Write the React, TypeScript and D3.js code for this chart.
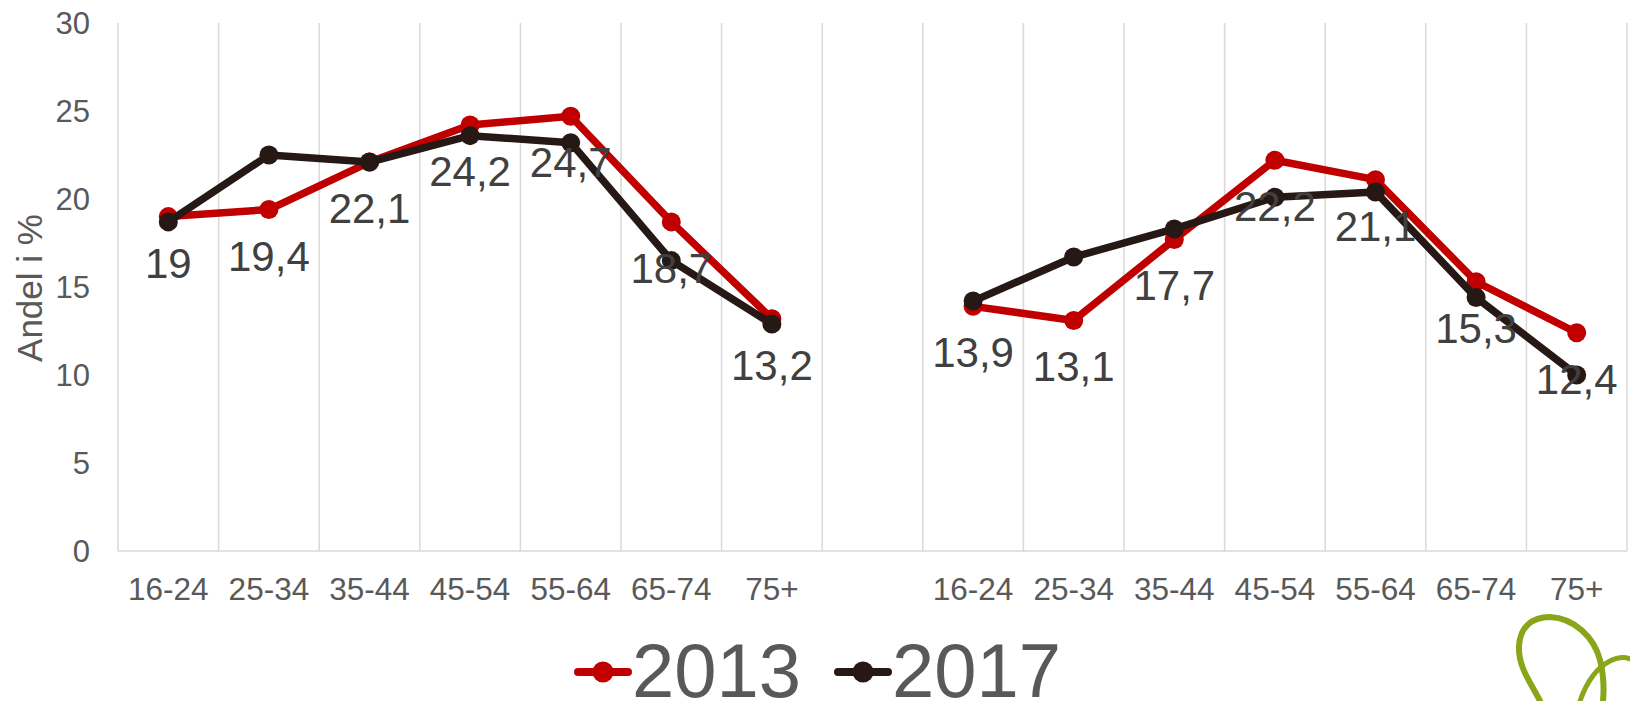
import React from "react";
import * as d3 from "d3";

const ageGroups = ["16-24", "25-34", "35-44", "45-54", "55-64", "65-74", "75+"];
const categories = [...ageGroups, "", ...ageGroups];
const values2013: (number | null)[] = [19, 19.4, 22.1, 24.2, 24.7, 18.7, 13.2, null, 13.9, 13.1, 17.7, 22.2, 21.1, 15.3, 12.4];
const values2017: (number | null)[] = [18.7, 22.5, 22.1, 23.6, 23.2, 16.5, 12.9, null, 14.2, 16.7, 18.3, 20.1, 20.4, 14.4, 10.0];
const yTicks = [0, 5, 10, 15, 20, 25, 30];
const seriesNames = ["2013", "2017"];
const yTitle = "Andel i %";

const W = 1630;
const H = 701;
const FONT = "'Liberation Sans', Arial, Helvetica, sans-serif";
const RED = "#C00000";
const BLACK = "#261814";
const GRID = "#D9D9D9";
const TXT = "#595959";
const LBL = "#404040";

export default function App() {
  React.useEffect(() => {
    document.body.style.margin = "0";
  }, []);

  const keys = categories.map((_, i) => String(i));
  const x = d3.scaleBand<string>().domain(keys).range([118, 1627]).padding(0);
  const y = d3.scaleLinear().domain([0, 30]).range([551, 23]);
  const cx = (i: number) => (x(String(i)) as number) + x.bandwidth() / 2;

  const line = d3
    .line<number | null>()
    .defined((d) => d != null)
    .x((_, i) => cx(i))
    .y((d) => y(d as number));

  const boundaries = d3.range(categories.length + 1).map((i) => 118 + i * x.bandwidth());
  const fmt = (v: number) => String(v).replace(".", ",");

  const series = [
    { name: seriesNames[0], values: values2013, color: RED },
    { name: seriesNames[1], values: values2017, color: BLACK },
  ];

  return (
    <svg
      width={W}
      height={H}
      style={{ position: "absolute", left: 0, top: 0, display: "block", background: "#fff" }}
      fontFamily={FONT}
    >
      <rect x={0} y={0} width={W} height={H} fill="#fff" />
      {/* vertical gridlines */}
      {boundaries.map((bx, i) => (
        <line key={"g" + i} x1={bx} x2={bx} y1={y(30)} y2={y(0)} stroke={GRID} strokeWidth={1.5} />
      ))}
      {/* x axis */}
      <line x1={118} x2={1627} y1={y(0)} y2={y(0)} stroke={GRID} strokeWidth={1.5} />

      {/* y tick labels */}
      {yTicks.map((t) => (
        <text key={"yt" + t} x={90} y={y(t)} dy="0.36em" textAnchor="end" fontSize={31} fill={TXT}>
          {t}
        </text>
      ))}
      {/* y title */}
      <text
        transform={`translate(42, 288) rotate(-90)`}
        textAnchor="middle"
        fontSize={35}
        fill={TXT}
      >
        {yTitle}
      </text>

      {/* x labels */}
      {categories.map((c, i) => (
        <text key={"xl" + i} x={cx(i)} y={600} textAnchor="middle" fontSize={31.5} fill={TXT}>
          {c}
        </text>
      ))}

      {/* series */}
      {series.map((s) => (
        <g key={s.name}>
          <path d={line(s.values) || ""} fill="none" stroke={s.color} strokeWidth={7.5} strokeLinejoin="round" />
          {s.values.map((v, i) =>
            v == null ? null : <circle key={i} cx={cx(i)} cy={y(v)} r={9.5} fill={s.color} />
          )}
        </g>
      ))}

      {/* data labels for 2013 */}
      {values2013.map((v, i) =>
        v == null ? null : (
          <text key={"dl" + i} x={cx(i)} y={y(v) + 61} textAnchor="middle" fontSize={42} fill={LBL}>
            {fmt(v)}
          </text>
        )
      )}

      {/* legend */}
      <g>
        <line x1={578} x2={628} y1={672} y2={672} stroke={RED} strokeWidth={8} strokeLinecap="round" />
        <circle cx={603} cy={672} r={10.5} fill={RED} />
        <text x={632} y={697} fontSize={76} fill={TXT}>
          {seriesNames[0]}
        </text>
        <line x1={838} x2={888} y1={672} y2={672} stroke={BLACK} strokeWidth={8} strokeLinecap="round" />
        <circle cx={863} cy={672} r={10.5} fill={BLACK} />
        <text x={892} y={697} fontSize={76} fill={TXT}>
          {seriesNames[1]}
        </text>
      </g>

      {/* decorative logo swirl */}
      <g fill="none" stroke="#89A51A" strokeLinecap="round">
        <path d="M1540,701 C1532,684 1518,668 1519,646 C1520,627 1532,617 1550,617 C1574,618 1594,637 1600,660 C1604,676 1604,690 1603,701" strokeWidth={6} />
        <path d="M1580,701 C1586,684 1596,668 1610,661 C1618,657 1625,657 1630,659" strokeWidth={5} />
      </g>
    </svg>
  );
}
